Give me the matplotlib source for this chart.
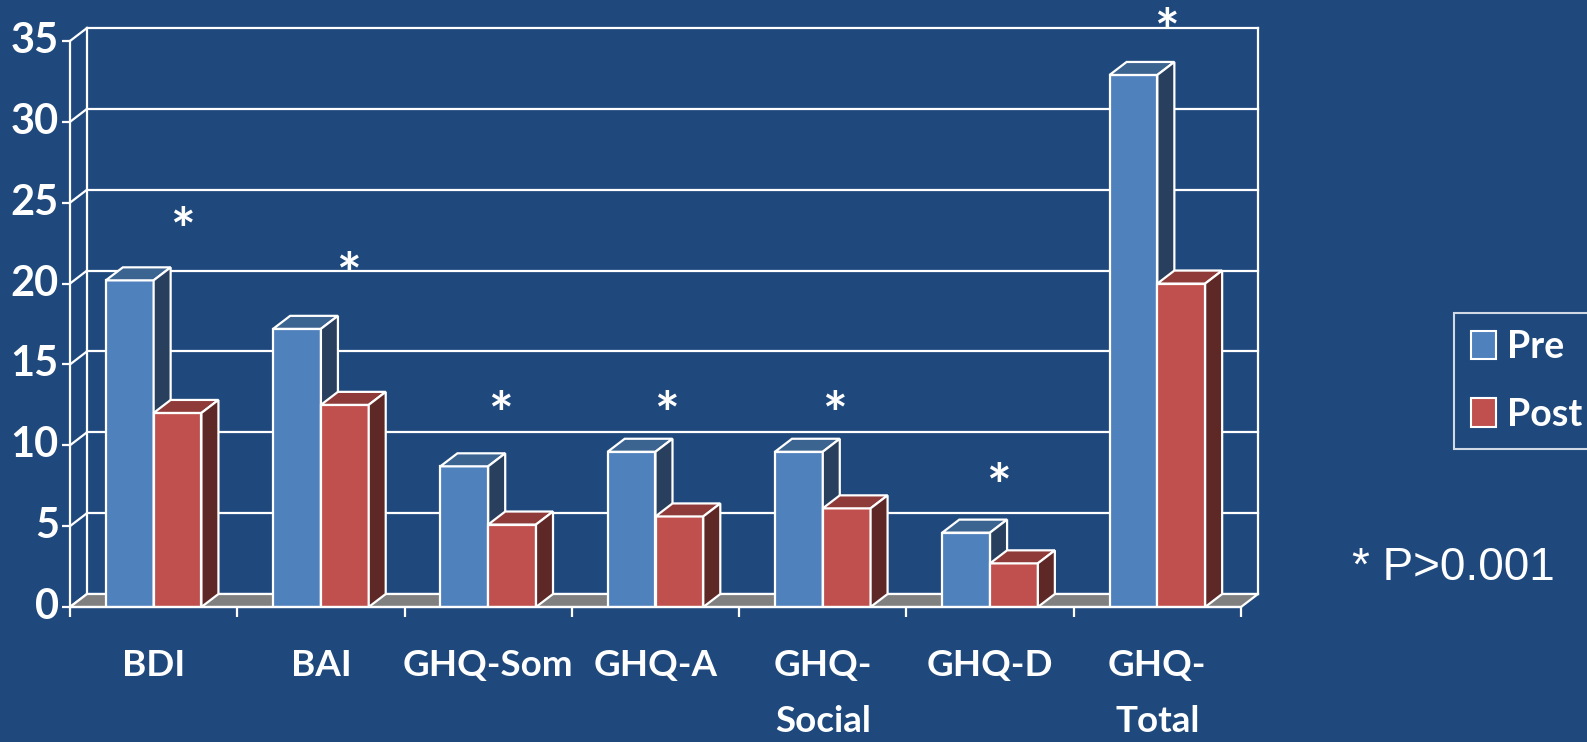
import matplotlib
matplotlib.use("Agg")
import matplotlib.pyplot as plt
from matplotlib.patches import Polygon, Patch
from matplotlib.transforms import offset_copy

# data
categories = ["BDI", "BAI", "GHQ-Som", "GHQ-A", "GHQ-\nSocial", "GHQ-D", "GHQ-\nTotal"]
pre = [20.2, 17.2, 8.7, 9.6, 9.6, 4.6, 32.9]
post = [12.0, 12.5, 5.1, 5.6, 6.1, 2.7, 20.0]
star_y = [24.1, 21.3, 12.7, 12.7, 12.7, 8.3, 36.4]
star_dx = [0.175, 0.162, 0.076, 0.068, 0.067, 0.053, 0.052]
yticks = [0, 5, 10, 15, 20, 25, 30, 35]

BG = "#1F497D"
PRE_C = ("#4F81BD", "#3C6491", "#283F5E")   # front, top, side
POST_C = ("#C0504D", "#8E3B39", "#5E2827")
FLOOR = "#808080"
EDGE = "white"
FONT = "Lato"

W, H = 1587, 742
fig = plt.figure(figsize=(W / 100, H / 100), dpi=100, facecolor=BG)
# front plane of the plot
fx0, fx1, fy0, fy35 = 70, 1241, 607, 41
ax = fig.add_axes([fx0 / W, (H - fy0) / H, (fx1 - fx0) / W, (fy0 - fy35) / H])
ax.set_facecolor("none")
ax.set_frame_on(False)
n = len(categories)
ax.set_xlim(0, n)
ax.set_ylim(0, 35)

# depth offset in data units
ddx = n * 17 / (fx1 - fx0)
ddy = 35 * 13 / (fy0 - fy35)

lw = 1.6
# back wall grid + left wall
for v in yticks:
    ax.plot([ddx, n + ddx], [v + ddy, v + ddy], color=EDGE, lw=lw, zorder=1, clip_on=False)
    ax.plot([0, ddx], [v, v + ddy], color=EDGE, lw=lw, zorder=1, clip_on=False)
ax.plot([ddx, ddx], [ddy, 35 + ddy], color=EDGE, lw=lw, zorder=1, clip_on=False)
ax.plot([n + ddx, n + ddx], [ddy, 35 + ddy], color=EDGE, lw=lw, zorder=1, clip_on=False)
ax.plot([0, 0], [0, 35], color=EDGE, lw=lw, zorder=6, clip_on=False)

# floor
ax.add_patch(Polygon([(0, 0), (n, 0), (n + ddx, ddy), (ddx, ddy)], closed=True,
                     facecolor=FLOOR, edgecolor=EDGE, lw=lw, zorder=2, clip_on=False))
ax.plot([0, n], [0, 0], color=EDGE, lw=lw, zorder=6, clip_on=False)

# bars
w = 1 / 3.5
xs = [i + 0.5 for i in range(n)]


def box3d(x, h, cols, z):
    ax.bar(x, h, width=w, align="edge", color=cols[0], edgecolor=EDGE, lw=lw, zorder=z)
    ax.add_patch(Polygon([(x, h), (x + w, h), (x + w + ddx, h + ddy), (x + ddx, h + ddy)],
                         closed=True, facecolor=cols[1], edgecolor=EDGE, lw=lw, zorder=z,
                         clip_on=False))
    ax.add_patch(Polygon([(x + w, 0), (x + w + ddx, ddy), (x + w + ddx, h + ddy), (x + w, h)],
                         closed=True, facecolor=cols[2], edgecolor=EDGE, lw=lw, zorder=z,
                         clip_on=False))


star_fs = 42
star_tr = offset_copy(ax.transData, fig=fig, y=-0.28 * star_fs, units="points")
for i in range(n):
    box3d(xs[i] - w, pre[i], PRE_C, 3)
    box3d(xs[i], post[i], POST_C, 4)
    ax.text(xs[i] + star_dx[i], star_y[i], "*", color="white", fontsize=star_fs,
            fontweight="bold", family=FONT, ha="center", va="center", zorder=7,
            transform=star_tr)

# ticks
ax.set_yticks(yticks)
ax.set_yticklabels([str(t) for t in yticks])
ax.set_xticks(xs)
ax.set_xticklabels(categories, linespacing=1.85)
ax.set_xticks(range(n + 1), minor=True)
ax.tick_params(axis="y", colors="white", length=6, width=lw, pad=2, labelsize=30)
ax.tick_params(axis="x", which="major", length=0, pad=30, labelsize=26.5, colors="white")
ax.tick_params(axis="x", which="minor", length=7, width=lw, colors="white")
for lab in ax.get_xticklabels() + ax.get_yticklabels():
    lab.set_fontweight("bold")
    lab.set_family(FONT)
for lab in ax.get_yticklabels():
    lab.set_verticalalignment("center")

# legend
handles = [Patch(facecolor=PRE_C[0], edgecolor=EDGE, lw=1.5, label="Pre"),
           Patch(facecolor=POST_C[0], edgecolor=EDGE, lw=1.5, label="Post")]
leg = fig.legend(handles=handles, loc="upper left", bbox_to_anchor=(1454 / W, 1 - 313 / H),
                 frameon=True, fancybox=False, facecolor=BG, edgecolor=EDGE,
                 prop={"family": FONT, "weight": "bold", "size": 27},
                 handlelength=0.67, handleheight=0.8, handletextpad=0.3,
                 labelspacing=0.9, borderpad=0.45, borderaxespad=0)
leg.get_frame().set_linewidth(1.5)
for t in leg.get_texts():
    t.set_color("white")

fig.text(1352 / W, 1 - 568 / H, "* P>0.001", color="white", fontsize=33,
         family="Liberation Sans", ha="left", va="center")

fig.savefig("out.png", dpi=100, facecolor=BG)
